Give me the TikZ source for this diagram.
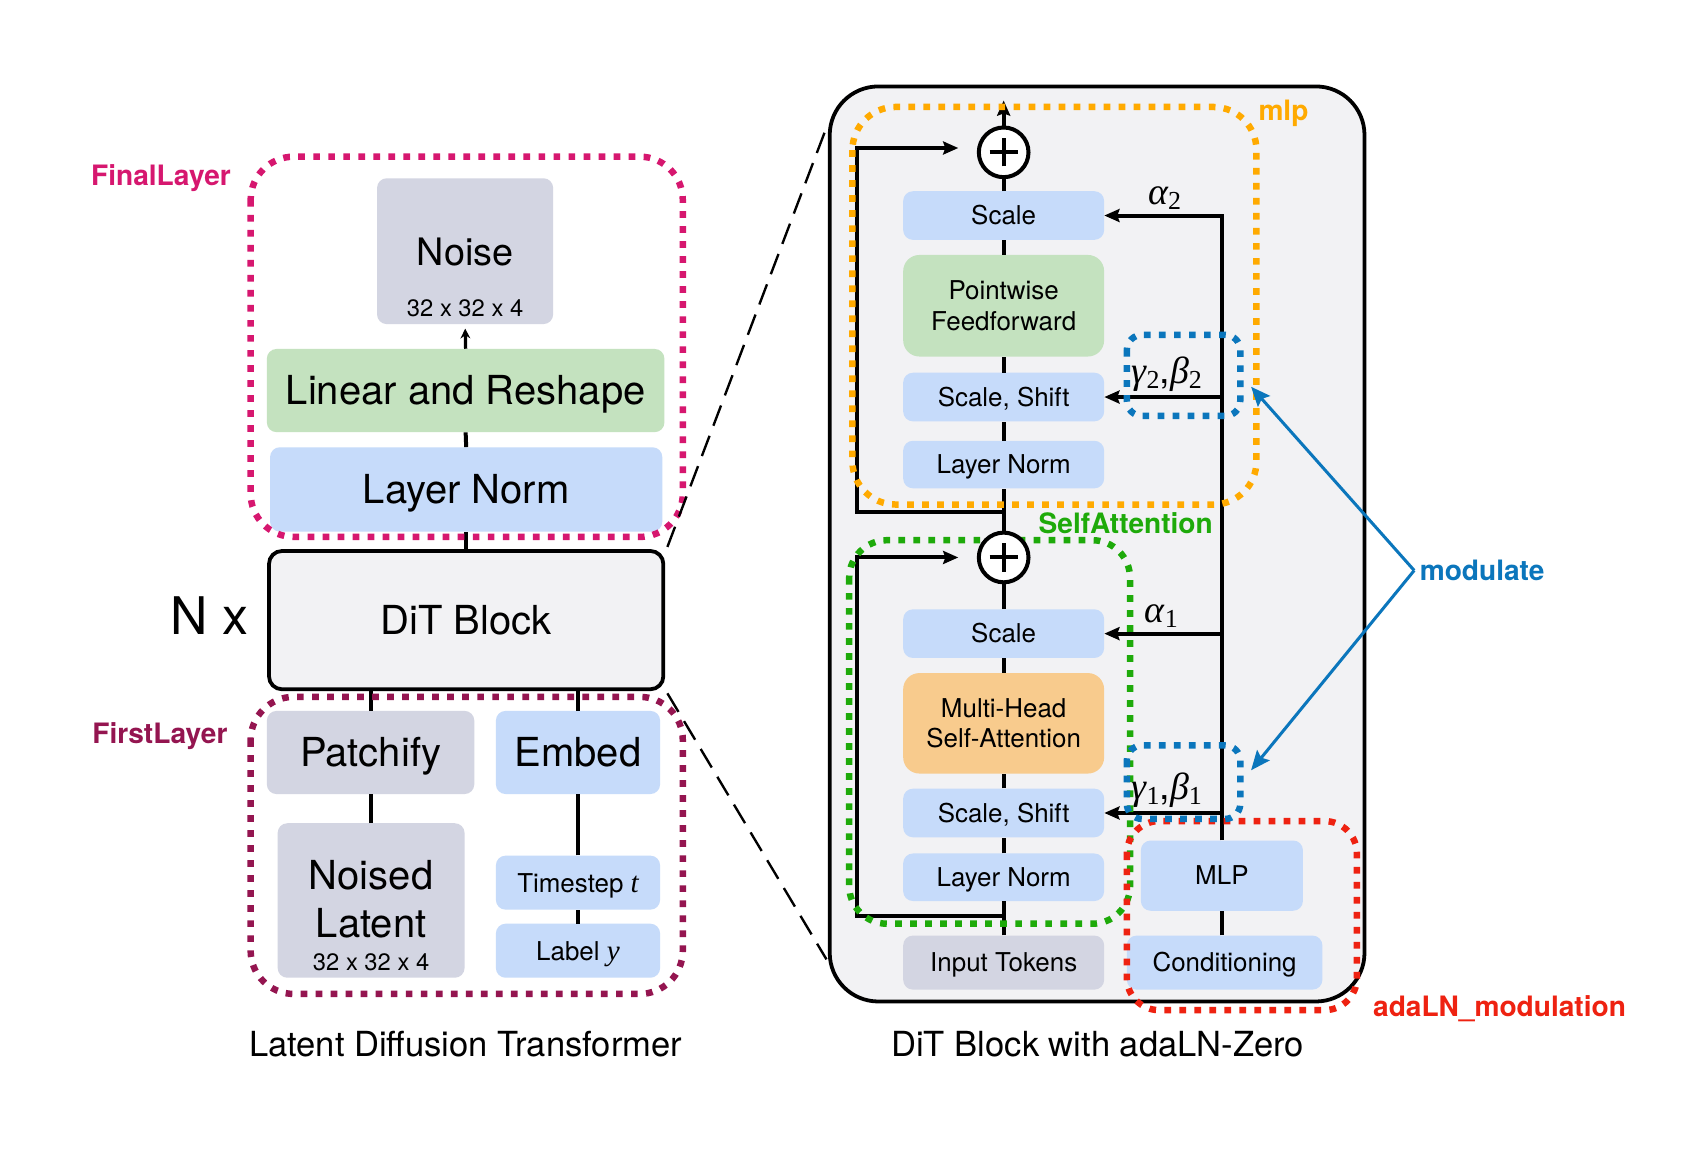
\documentclass[tikz,border=0pt]{standalone}
\usepackage{fontspec}
\setmainfont{TeX Gyre Heros}
\newfontfamily\grkfont{Liberation Serif}
\usetikzlibrary{arrows.meta}

\definecolor{boxblue}{HTML}{C6DBFA}
\definecolor{boxgray}{HTML}{D3D5E2}
\definecolor{boxgreen}{HTML}{C4E2BF}
\definecolor{boxorange}{HTML}{F8CB8D}
\definecolor{panelgray}{HTML}{F2F2F4}
\definecolor{finalpink}{HTML}{D6176F}
\definecolor{firstplum}{HTML}{941550}
\definecolor{mlporange}{HTML}{FFAA00}
\definecolor{attngreen}{HTML}{1EAA0A}
\definecolor{modblue}{HTML}{0B76BC}
\definecolor{adared}{HTML}{EE2211}

\newcommand{\fsz}[2]{\fontsize{#1}{#2}\selectfont}
% italic symbol with a small upright index
\newcommand{\sym}[2]{{\grkfont\itshape #1}\raisebox{-5pt}{\grkfont\fsz{24}{26}#2}}

\tikzset{
  blk/.style={rounded corners=9pt, inner sep=0pt, align=center, text=black},
  lbox/.style={blk, font=\fsz{37}{44}, text height=26.6pt, text depth=0pt},
  sbox/.style={blk, minimum width=186pt, font=\fsz{24}{28}},
  sline/.style={text height=17.3pt, text depth=0pt},
  conn/.style={line width=3.7pt, black},
  tip/.style={-{Stealth[length=14pt,width=12pt,inset=2pt]}},
  group/.style={line width=6pt, dash pattern=on 6.2pt off 7.7pt, rounded corners=#1},
  tag/.style={font=\bfseries\fsz{26}{30}, anchor=base, inner sep=0pt},
  greek/.style={font=\fsz{35}{40}, inner sep=0pt, anchor=base},
  modarrow/.style={line width=2.8pt, modblue, -{Stealth[length=18pt,width=15pt,inset=3pt]}},
  zoomline/.style={line width=2.2pt, dash pattern=on 20pt off 10pt},
  plusnode/.style={circle, draw, line width=3.7pt, fill=white, minimum size=46pt, inner sep=0pt}
}

\begin{document}
\begin{tikzpicture}[x=1pt,y=-1pt]
\fill[white] (0,0) rectangle (1568,1070);
\useasboundingbox (0,0) rectangle (1568,1070);

% ---------------- right panel background ----------------
\node[draw, line width=3.5pt, fill=panelgray, rounded corners=45pt,
      minimum width=495pt, minimum height=847pt, inner sep=0pt] (panel) at (1015.5,503.5) {};

% ---------------- left column: Latent Diffusion Transformer ----------------
\node[blk, fill=boxgray, minimum width=163pt, minimum height=135pt] (noise) at (430.5,232.5) {};
\node[font=\fsz{35}{40}, inner sep=0pt, text height=25pt, text depth=0pt] (noisetxt) at (430.5,233) {Noise};
\node[font=\fsz{22}{26}, inner sep=0pt, text height=16pt, text depth=0pt] (noisedim) at (430.5,285) {32 x 32 x 4};

\node[lbox, fill=boxgreen, minimum width=368pt, minimum height=77pt] (lnr) at (431,361.5) {Linear and Reshape};
\node[lbox, fill=boxblue, minimum width=363pt, minimum height=78pt] (lnorm) at (431.5,453) {Layer Norm};

\node[lbox, draw, line width=3.5pt, fill=panelgray, rounded corners=12pt,
      minimum width=365pt, minimum height=128pt] (dit) at (431.5,574) {DiT Block};
\node[font=\fsz{48}{56}, anchor=base, inner sep=0pt] (nx) at (194,587) {N x};

\node[lbox, fill=boxgray, minimum width=192pt, minimum height=77pt] (patch) at (343,696.5) {Patchify};
\node[lbox, fill=boxblue, minimum width=152pt, minimum height=77pt] (embed) at (535,696.5) {Embed};

\node[blk, fill=boxgray, minimum width=173pt, minimum height=143pt] (noised) at (343.5,833.5) {};
\node[font=\fsz{37}{44}, inner sep=0pt, anchor=base] (noisedA) at (343.5,823) {Noised};
\node[font=\fsz{37}{44}, inner sep=0pt, anchor=base] (noisedB) at (343.5,868) {Latent};
\node[font=\fsz{22}{26}, inner sep=0pt, anchor=base] (noiseddim) at (343.5,898) {32 x 32 x 4};

\node[blk, sline, fill=boxblue, minimum width=152pt, minimum height=50pt, font=\fsz{24}{28}] (tstep) at (535,817) {Timestep {\grkfont\itshape\fsz{27}{30}t}};
\node[blk, sline, fill=boxblue, minimum width=152pt, minimum height=50pt, font=\fsz{24}{28}] (label) at (535,880) {Label {\grkfont\itshape\fsz{27}{30}y}};

% connectors, left column
\draw[line width=3pt, -{Stealth[length=9pt,width=9pt]}, shorten >=4pt] (lnr.north) -- (noise.south);
\draw[conn] (lnorm.north) -- (lnr.south);
\draw[conn] (dit.north) -- (lnorm.south);
\draw[conn] (patch.north) -- (patch.north |- dit.south);
\draw[conn] (embed.north) -- (embed.north |- dit.south);
\draw[conn] (noised.north) -- (noised.north |- patch.south);
\draw[conn] (tstep.north) -- (embed.south);
\draw[conn] (label.north) -- (tstep.south);

% ---------------- right panel: DiT block with adaLN-Zero ----------------
\node[sbox, sline, fill=boxblue, minimum height=45pt] (sc2) at (929,199.5) {Scale};
\node[sbox, fill=boxgreen, minimum height=94pt, rounded corners=15pt] (pf) at (929,283) {Pointwise\\Feedforward};
\node[sbox, sline, fill=boxblue, minimum height=45pt] (ss2) at (929,367.5) {Scale, Shift};
\node[sbox, sline, fill=boxblue, minimum height=44pt] (ln2) at (929,430) {Layer Norm};

\node[sbox, sline, fill=boxblue, minimum height=45pt] (sc1) at (929,586.5) {Scale};
\node[sbox, fill=boxorange, minimum height=93pt, rounded corners=15pt] (mhsa) at (929,669.5) {Multi-Head\\Self-Attention};
\node[sbox, sline, fill=boxblue, minimum height=45pt] (ss1) at (929,752.5) {Scale, Shift};
\node[sbox, sline, fill=boxblue, minimum height=44pt] (ln1) at (929,812) {Layer Norm};
\node[sbox, sline, fill=boxgray, minimum height=50pt] (inp) at (929,891) {Input Tokens};

\node[blk, sline, fill=boxblue, minimum width=150pt, minimum height=65pt, font=\fsz{24}{28}] (mlpb) at (1131,810.5) {MLP};
\node[blk, sline, fill=boxblue, minimum width=181pt, minimum height=50pt, font=\fsz{24}{28}] (cond) at (1133.5,891) {Conditioning};

% main stream
\coordinate (pc1) at (929,141);
\coordinate (pc2) at (929,516);
\coordinate (out) at (929,93);
\draw[conn, tip] (pc1) -- (out);
\draw[conn] (sc2.north) -- (pc1);
\draw[conn] (pf.north) -- (sc2.south);
\draw[conn] (ss2.north) -- (pf.south);
\draw[conn] (ln2.north) -- (ss2.south);
\draw[conn] (pc2) -- (ln2.south);
\draw[conn] (sc1.north) -- (pc2);
\draw[conn] (mhsa.north) -- (sc1.south);
\draw[conn] (ss1.north) -- (mhsa.south);
\draw[conn] (ln1.north) -- (ss1.south);
\draw[conn] (inp.north) -- (ln1.south);

% residual connections
\coordinate (res1) at (929,848);
\coordinate (res1c) at (793,848);
\draw[conn, tip, shorten >=42pt] (res1) -- (res1c) |- (pc2);
\coordinate (res2) at (929,474);
\coordinate (res2c) at (793,474);
\draw[conn, tip, shorten >=42pt] (res2) -- (res2c) |- ([yshift=4pt]pc1);

% conditioning path and modulation parameters
\draw[conn] (cond.north -| mlpb.north) -- (mlpb.south);
\draw[conn, tip] (mlpb.north) |- (sc2.east);
\draw[conn, tip] (mlpb.north |- ss2.east) -- (ss2.east);
\draw[conn, tip] (mlpb.north |- sc1.east) -- (sc1.east);
\draw[conn, tip] (mlpb.north |- ss1.east) -- (ss1.east);

\node[greek] (a2) at (1078,189) {\sym{α}{2}};
\node[greek] (gb2) at (1080,355) {\sym{γ}{2},\sym{β}{2}};
\node[greek] (a1) at (1075,576) {\sym{α}{1}};
\node[greek] (gb1) at (1080,740) {\sym{γ}{1},\sym{β}{1}};

% ---------------- dotted module outlines ----------------
\draw[group=40pt, finalpink] (232,145) rectangle (632,497);
\draw[group=40pt, firstplum] (232,645) rectangle (632,920);
\draw[group=40pt, mlporange] (789,99) rectangle (1163,467);
\draw[group=35pt, attngreen] (786,500) rectangle (1046,855);
\draw[group=30pt, adared] (1043,760) rectangle (1256,935);
\draw[group=14pt, modblue] (1043,310) rectangle (1148,385);
\draw[group=14pt, modblue] (1043,690) rectangle (1148,758);

% residual adders
\node[plusnode] (plus1) at (pc1) {};
\node[plusnode] (plus2) at (pc2) {};
\foreach \p in {plus1,plus2}{
  \draw[conn] ([xshift=-13pt]\p.center) -- ([xshift=13pt]\p.center);
  \draw[conn] ([yshift=-13pt]\p.center) -- ([yshift=13pt]\p.center);
}

% zoom guides from the block to the detailed view
\coordinate (ztop) at (765,118);
\coordinate (zbot) at (765,888);
\draw[zoomline] ([xshift=2pt,yshift=2pt]dit.north east) -- (ztop);
\draw[zoomline] ([xshift=2pt,yshift=-2pt]dit.south east) -- (zbot);

% ---------------- labels ----------------
\node[tag, text=finalpink] (tagfinal) at (149,172) {FinalLayer};
\node[tag, text=firstplum] (tagfirst) at (148,688) {FirstLayer};
\node[tag, text=mlporange] (tagmlp) at (1188,112) {mlp};
\node[tag, text=attngreen] (tagattn) at (1042,494) {SelfAttention};
\node[tag, text=adared] (tagada) at (1388,941) {adaLN\_modulation};
\node[tag, text=modblue, anchor=base west] (tagmod) at (1314,537) {modulate};

\coordinate (modapex) at (1309,528);
\coordinate (modtipA) at (1158,358);
\coordinate (modtipB) at (1158,713);
\draw[modarrow] (modapex) -- (modtipA);
\draw[modarrow] (modapex) -- (modtipB);

\node[font=\fsz{32}{36}, anchor=base, inner sep=0pt] (titleL) at (431,978) {Latent Diffusion Transformer};
\node[font=\fsz{32}{36}, anchor=base, inner sep=0pt] (titleR) at (1016,978) {DiT Block with adaLN-Zero};
\end{tikzpicture}
\end{document}
